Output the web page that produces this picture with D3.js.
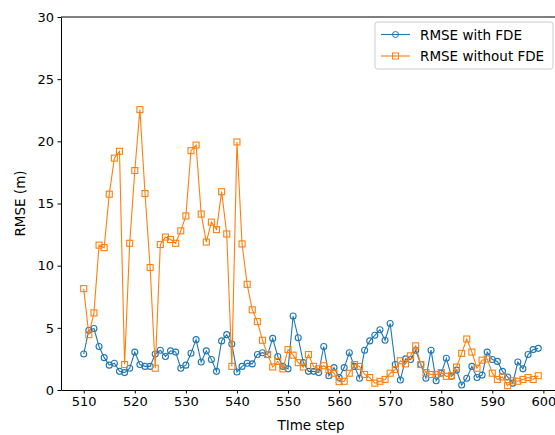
<!DOCTYPE html>
<html>
<head>
<meta charset="utf-8">
<script src="https://cdn.jsdelivr.net/npm/d3@7"></script>
<style>
  body { margin: 0; background: #fff; }
  svg { font-family: "DejaVu Sans", sans-serif; }
</style>
</head>
<body>
<div id="chart"></div>
<script>
const startStep = 510;
const withFDE = [2.9, 4.8, 4.95, 3.5, 2.6, 2.0, 2.15, 1.5, 1.4, 1.75,
  3.05, 2.05, 1.9, 1.9, 2.9, 3.2, 2.7, 3.15, 3.05, 1.75,
  2.0, 2.95, 4.05, 2.25, 3.15, 2.45, 1.5, 3.95, 4.45, 3.7,
  1.45, 1.9, 2.15, 2.1, 2.85, 3.0, 2.85, 4.15, 2.7, 1.9,
  1.7, 5.95, 4.2, 2.2, 1.5, 1.5, 1.4, 3.5, 1.15, 1.8,
  1.0, 1.8, 3.0, 1.9, 0.95, 3.2, 3.95, 4.4, 4.85, 4.0,
  5.35, 2.05, 0.8, 2.5, 2.45, 3.2, 2.05, 0.95, 3.2, 0.75,
  1.35, 2.55, 1.1, 1.6, 0.4, 0.95, 1.9, 1.0, 1.2, 3.05,
  2.45, 2.3, 1.5, 1.05, 0.55, 2.25, 1.7, 2.85, 3.25, 3.35];
const withoutFDE = [8.15, 4.45, 6.2, 11.65, 11.45, 15.75, 18.65, 19.2, 2.05, 11.8,
  17.65, 22.55, 15.8, 9.85, 1.75, 11.7, 12.3, 12.1, 11.8, 12.8,
  14.0, 19.25, 19.7, 14.15, 11.9, 13.5, 12.9, 15.95, 12.55, 1.9,
  19.95, 11.75, 8.5, 6.45, 5.5, 4.0, 2.85, 1.85, 2.3, 1.7,
  3.25, 2.8, 2.2, 1.85, 2.85, 1.9, 1.7, 1.95, 1.65, 1.35,
  0.67, 0.7, 1.35, 2.05, 1.9, 1.25, 1.0, 0.55, 0.7, 0.85,
  1.35, 1.65, 2.35, 2.1, 2.75, 3.55, 2.05, 1.4, 1.25, 1.25,
  1.4, 1.1, 1.15, 1.85, 2.95, 4.1, 3.05, 1.75, 2.4, 2.5,
  1.35, 0.85, 1.05, 0.35, 0.75, 0.7, 0.85, 1.0, 0.85, 1.15];
const xTicks = [510, 520, 530, 540, 550, 560, 570, 580, 590, 600];
const yTicks = [0, 5, 10, 15, 20, 25, 30];
const seriesNames = ['RMSE with FDE', 'RMSE without FDE'];
const colors = ['#1f77b4', '#ff7f0e'];

const W = 555, H = 435;
const margin = { top: 17, left: 61, bottom: 45 };
const plotW = 500;
const plotH = H - margin.top - margin.bottom;
const fontSize = 13.5;

const svg = d3.select('#chart')
  .append('svg')
  .attr('width', W)
  .attr('height', H);

const g = svg.append('g')
  .attr('transform', `translate(${margin.left},${margin.top})`);

const steps = withFDE.map((d, i) => startStep + i);
const pad = (steps[steps.length - 1] - steps[0]) * 0.05;

const x = d3.scaleLinear()
  .domain([steps[0] - pad, steps[steps.length - 1] + pad])
  .range([0, plotW]);

const y = d3.scaleLinear()
  .domain([0, 30])
  .range([plotH, 0]);

const line = d3.line()
  .x((d, i) => x(steps[i]))
  .y(d => y(d));

// Lines and markers
[withFDE, withoutFDE].forEach((vals, k) => {
  g.append('path')
    .datum(vals)
    .attr('fill', 'none')
    .attr('stroke', colors[k])
    .attr('stroke-width', 1.1)
    .attr('d', line);

  if (k === 0) {
    g.selectAll('.c0')
      .data(vals)
      .enter().append('circle')
      .attr('cx', (d, i) => x(steps[i]))
      .attr('cy', d => y(d))
      .attr('r', 3)
      .attr('fill', 'none')
      .attr('stroke', colors[k])
      .attr('stroke-width', 1.1);
  } else {
    g.selectAll('.s1')
      .data(vals)
      .enter().append('rect')
      .attr('x', (d, i) => x(steps[i]) - 3)
      .attr('y', d => y(d) - 3)
      .attr('width', 6)
      .attr('height', 6)
      .attr('fill', 'none')
      .attr('stroke', colors[k])
      .attr('stroke-width', 1.1);
  }
});

// Axes
const xAxis = g.append('g')
  .attr('transform', `translate(0,${plotH})`)
  .call(d3.axisBottom(x).tickValues(xTicks).tickSize(3.5).tickPadding(3.5).tickSizeOuter(0));

const yAxis = g.append('g')
  .call(d3.axisLeft(y).tickValues(yTicks).tickSize(3.5).tickPadding(3.5).tickSizeOuter(0));

[xAxis, yAxis].forEach(a => {
  a.selectAll('text')
    .attr('font-family', '"DejaVu Sans", sans-serif')
    .attr('font-size', 13)
    .attr('fill', '#000');
  a.select('.domain').attr('stroke', '#000').attr('stroke-width', 1);
  a.selectAll('.tick line').attr('stroke', '#000');
});

// top spine
g.append('line')
  .attr('x1', 0).attr('x2', plotW)
  .attr('y1', 0).attr('y2', 0)
  .attr('stroke', '#000');

// Axis labels
svg.append('text')
  .attr('x', margin.left + x(554.5))
  .attr('y', 430)
  .attr('text-anchor', 'middle')
  .attr('font-size', fontSize)
  .text('TIme step');

svg.append('text')
  .attr('transform', `translate(25,${margin.top + plotH / 2}) rotate(-90)`)
  .attr('text-anchor', 'middle')
  .attr('font-size', fontSize)
  .text('RMSE (m)');

// Legend
const legend = svg.append('g')
  .attr('transform', 'translate(375,22)');

legend.append('rect')
  .attr('width', 178)
  .attr('height', 47)
  .attr('rx', 2.5)
  .attr('fill', '#fff')
  .attr('fill-opacity', 0.8)
  .attr('stroke', '#ccc');

seriesNames.forEach((name, k) => {
  const row = legend.append('g')
    .attr('transform', `translate(0,${12.5 + k * 21.5})`);
  row.append('line')
    .attr('x1', 6).attr('x2', 35)
    .attr('stroke', colors[k])
    .attr('stroke-width', 1.1);
  if (k === 0) {
    row.append('circle')
      .attr('cx', 20.5).attr('r', 3)
      .attr('fill', 'none')
      .attr('stroke', colors[k]);
  } else {
    row.append('rect')
      .attr('x', 17.5).attr('y', -3)
      .attr('width', 6).attr('height', 6)
      .attr('fill', 'none')
      .attr('stroke', colors[k]);
  }
  row.append('text')
    .attr('x', 45)
    .attr('y', 5)
    .attr('font-size', fontSize)
    .text(name);
});
</script>
</body>
</html>
